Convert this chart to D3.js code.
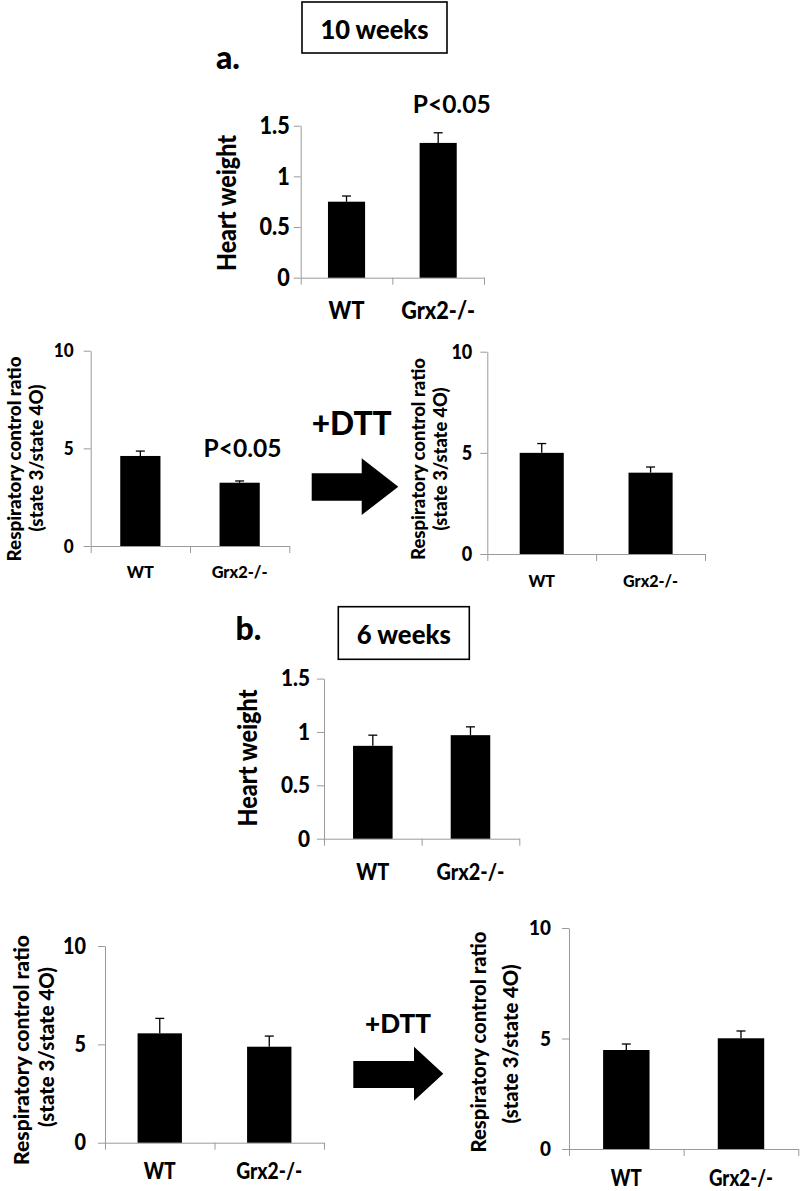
<!DOCTYPE html>
<html>
<head>
<meta charset="utf-8">
<script src="https://cdn.jsdelivr.net/npm/d3@7"></script>
<style>
  html, body { margin: 0; padding: 0; background: #fff; }
  svg { display: block; }
  text { font-family: Lato, "Open Sans", sans-serif; fill: #000; }
</style>
</head>
<body>
<svg id="chart" width="800" height="1191"></svg>
<script>
// ---------- data ----------
const categories = ["WT", "Grx2-/-"];
const heartTicks = [0, 0.5, 1, 1.5];
const rcrTicks = [0, 5, 10];

const heart10 = [0.75, 1.33];
const heart10Err = [0.056, 0.10];
const rcr10 = [4.61, 3.24];
const rcr10Err = [0.25, 0.09];
const rcr10DTT = [5.0, 4.02];
const rcr10DTTErr = [0.46, 0.28];

const heart6 = [0.87, 0.97];
const heart6Err = [0.10, 0.078];
const rcr6 = [5.56, 4.88];
const rcr6Err = [0.76, 0.54];
const rcr6DTT = [4.48, 5.01];
const rcr6DTTErr = [0.27, 0.33];

const heartLabel = "Heart weight";
const rcrLabel = ["Respiratory control ratio", "(state 3/state 4O)"];

// ---------- layout ----------
const svg = d3.select("#chart");
const FONT = "Lato, 'Open Sans', sans-serif";

function fitText(sel, len) {
  const base = parseFloat(sel.style("font-size"));
  const w = sel.node().getComputedTextLength();
  if (w > 0) sel.style("font-size", (base * len / w) + "px");
  return sel;
}
// squeeze text horizontally to a target length at a given font size (Calibri-like narrow look)
function squeezeTo(sel, fs, len) {
  sel.style("font-size", fs + "px");
  const w = sel.node().getComputedTextLength();
  if (len && w > len) sel.attr("textLength", len).attr("lengthAdjust", "spacingAndGlyphs");
  else if (len) fitText(sel, len);
  return sel;
}

const panels = [
  { vals: heart10, errs: heart10Err, ticks: heartTicks, max: 1.5,
    x0: 300.7, x1: 484, y0: 277.7, y1: 125.7, tickFs: 24, tickPad: 4, catFs: 24, catLen: 74, labDy: 41,
    ylab: [{ t: heartLabel, x: 226, y: 203, len: 136, fs: 26 }] },
  { vals: rcr10, errs: rcr10Err, ticks: rcrTicks, max: 10,
    x0: 90.7, x1: 289.3, y0: 546, y1: 350.7, tickFs: 19, tickPad: 10, catFs: 17, catLen: 56, labDy: 32,
    ylab: [{ t: rcrLabel[0], x: 13, y: 459, len: 205, fs: 19 }, { t: rcrLabel[1], x: 35, y: 458, len: 147, fs: 19 }] },
  { vals: rcr10DTT, errs: rcr10DTTErr, ticks: rcrTicks, max: 10,
    x0: 487.3, x1: 705, y0: 554, y1: 351.7, tickFs: 20, tickPad: 8, catFs: 17, catLen: 55, labDy: 33,
    ylab: [{ t: rcrLabel[0], x: 417, y: 459, len: 202, fs: 19 }, { t: rcrLabel[1], x: 439.3, y: 459, len: 143, fs: 19 }] },
  { vals: heart6, errs: heart6Err, ticks: heartTicks, max: 1.5,
    x0: 324, x1: 519.3, y0: 838.7, y1: 678.6, tickFs: 23, tickPad: 7, catFs: 23, catLen: 68, labDy: 41,
    ylab: [{ t: heartLabel, x: 247, y: 758, len: 137, fs: 26 }] },
  { vals: rcr6, errs: rcr6Err, ticks: rcrTicks, max: 10,
    x0: 105, x1: 324, y0: 1142.7, y1: 946, tickFs: 22, tickPad: 12, catFs: 23, catLen: 66, labDy: 36,
    ylab: [{ t: rcrLabel[0], x: 20, y: 1050, len: 230, fs: 21 }, { t: rcrLabel[1], x: 45, y: 1047, len: 160, fs: 21 }] },
  { vals: rcr6DTT, errs: rcr6DTTErr, ticks: rcrTicks, max: 10,
    x0: 569, x1: 798.3, y0: 1149, y1: 928, tickFs: 21, tickPad: 11, catFs: 22, catLen: 64, labDy: 37,
    ylab: [{ t: rcrLabel[0], x: 478.3, y: 1042, len: 221, fs: 20.5 }, { t: rcrLabel[1], x: 510, y: 1044, len: 159, fs: 20.5 }] }
];

const axisColor = "#9a9a9a";

panels.forEach(p => {
  const g = svg.append("g");
  const y = d3.scaleLinear().domain([0, p.max]).range([p.y0, p.y1]);
  const x = d3.scaleBand().domain(categories).range([p.x0, p.x1]).padding(0);
  const xl = d3.scaleLinear().domain([0, categories.length]).range([p.x0, p.x1]);
  const bw = x.bandwidth() * 0.405;

  // y axis
  const ya = g.append("g").attr("transform", `translate(${p.x0},0)`)
    .call(d3.axisLeft(y).tickValues(p.ticks).tickSize(7).tickSizeOuter(0).tickPadding(p.tickPad).tickFormat(d3.format("")));
  ya.select(".domain").attr("stroke", axisColor);
  ya.selectAll(".tick line").attr("stroke", axisColor);
  ya.selectAll(".tick text").style("font-size", p.tickFs + "px").style("font-weight", "900")
    .attr("fill", "#000").style("font-family", FONT)
    .each(function () {
      const w = this.getComputedTextLength();
      d3.select(this).attr("textLength", w * 0.9).attr("lengthAdjust", "spacingAndGlyphs");
    });

  // x axis
  const xa = g.append("g").attr("transform", `translate(0,${p.y0})`)
    .call(d3.axisBottom(xl).tickValues(d3.range(categories.length + 1)).tickSize(7).tickSizeOuter(0).tickFormat(""));
  xa.select(".domain").attr("stroke", axisColor);
  xa.selectAll(".tick line").attr("stroke", axisColor);

  // bars
  g.selectAll("rect.bar").data(p.vals).enter().append("rect")
    .attr("class", "bar")
    .attr("x", (d, i) => x(categories[i]) + x.bandwidth() / 2 - bw / 2)
    .attr("width", bw)
    .attr("y", d => y(d))
    .attr("height", d => y(0) - y(d))
    .attr("fill", "#000");

  // error bars (upper only)
  const eb = g.selectAll("g.err").data(p.vals).enter().append("g").attr("class", "err");
  eb.append("line")
    .attr("x1", (d, i) => x(categories[i]) + x.bandwidth() / 2)
    .attr("x2", (d, i) => x(categories[i]) + x.bandwidth() / 2)
    .attr("y1", d => y(d))
    .attr("y2", (d, i) => y(d + p.errs[i]))
    .attr("stroke", "#000").attr("stroke-width", 1.3);
  eb.append("line")
    .attr("x1", (d, i) => x(categories[i]) + x.bandwidth() / 2 - 4.5)
    .attr("x2", (d, i) => x(categories[i]) + x.bandwidth() / 2 + 4.5)
    .attr("y1", (d, i) => y(d + p.errs[i]))
    .attr("y2", (d, i) => y(d + p.errs[i]))
    .attr("stroke", "#000").attr("stroke-width", 1.3);

  // category labels (same squeeze ratio for both)
  const cats = g.selectAll("text.cat").data(categories).enter().append("text")
    .attr("class", "cat")
    .attr("x", d => x(d) + x.bandwidth() / 2)
    .attr("y", p.y0 + p.labDy)
    .attr("text-anchor", "middle")
    .style("font-size", p.catFs + "px").style("font-weight", "900")
    .text(d => d);
  const longNode = cats.nodes()[categories.length - 1];
  const ratio = Math.min(1, p.catLen / longNode.getComputedTextLength());
  cats.each(function () {
    const w = this.getComputedTextLength();
    d3.select(this).attr("textLength", w * ratio).attr("lengthAdjust", "spacingAndGlyphs");
  });

  // y label(s)
  p.ylab.forEach(l => {
    const t = g.append("text")
      .attr("transform", `translate(${l.x},${l.y}) rotate(-90)`)
      .attr("text-anchor", "middle")
      .attr("dominant-baseline", "central")
      .style("font-weight", "900")
      .text(l.t);
    squeezeTo(t, l.fs, l.len);
  });
});

// ---------- annotations ----------
function boxLabel(x0, y0, x1, y1, txt, len) {
  svg.append("rect").attr("x", x0).attr("y", y0).attr("width", x1 - x0).attr("height", y1 - y0)
    .attr("fill", "#fff").attr("stroke", "#000").attr("stroke-width", 1.6);
  const t = svg.append("text").attr("x", (x0 + x1) / 2).attr("y", (y0 + y1) / 2 + 1)
    .attr("text-anchor", "middle").attr("dominant-baseline", "central")
    .style("font-weight", "900").text(txt);
  squeezeTo(t, 26, len);
}
boxLabel(302, 2, 447, 53, "10 weeks", 108);
boxLabel(338.3, 606.7, 469.3, 659.3, "6 weeks", 94);

function label(x, y, txt, len, weight, fs) {
  const t = svg.append("text").attr("x", x).attr("y", y).attr("text-anchor", "middle")
    .style("font-weight", weight).text(txt);
  if (len) squeezeTo(t, fs, len); else t.style("font-size", fs + "px");
  return t;
}
label(228, 69, "a.", 0, "900", 32);
label(248.5, 640, "b.", 0, "900", 32);
label(451.7, 113, "P<0.05", 78, "bold", 25);
label(242.5, 457.3, "P<0.05", 78, "bold", 25);
label(351.7, 435, "+DTT", 80, "900", 24);
label(398, 1032.7, "+DTT", 66, "900", 22);

function arrow(rx0, ry0, rx1, ry1, hx1, hy0, hy1) {
  const ym = (hy0 + hy1) / 2;
  const path = d3.path();
  path.moveTo(rx0, ry0);
  path.lineTo(rx1, ry0);
  path.lineTo(rx1, hy0);
  path.lineTo(hx1, ym);
  path.lineTo(rx1, hy1);
  path.lineTo(rx1, ry1);
  path.lineTo(rx0, ry1);
  path.closePath();
  svg.append("path").attr("d", path.toString()).attr("fill", "#000");
}
arrow(311.7, 473.3, 361.7, 500.7, 398.3, 458.3, 515);
arrow(353.3, 1061, 414, 1088, 443.3, 1046.7, 1100.7);
</script>
</body>
</html>
